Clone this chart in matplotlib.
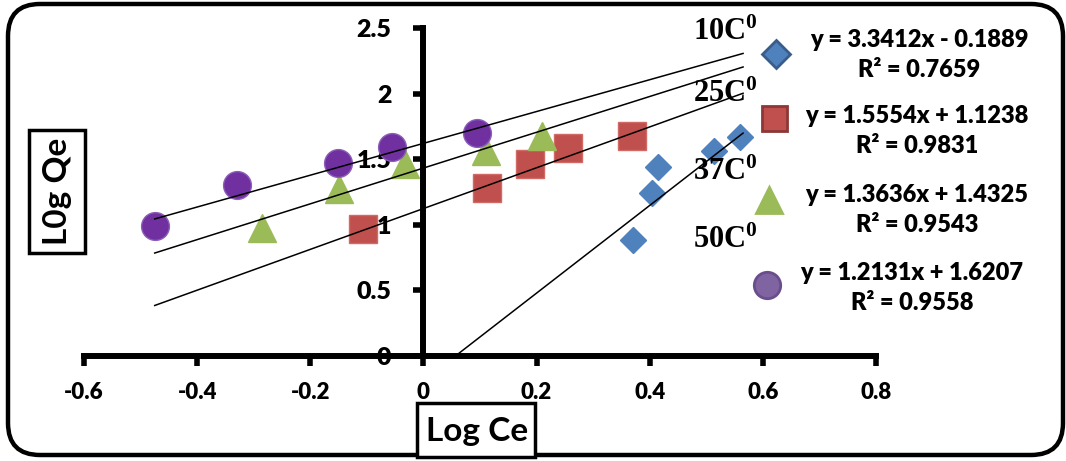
import numpy as np
import matplotlib
matplotlib.use("Agg")
import matplotlib.pyplot as plt
from matplotlib.patches import FancyBboxPatch, Rectangle
from matplotlib.ticker import FuncFormatter

plt.rcParams["font.family"] = ["Lato", "DejaVu Sans"]
plt.rcParams["font.weight"] = "heavy"
plt.rcParams["mathtext.fontset"] = "custom"
plt.rcParams["mathtext.rm"] = "Liberation Serif:bold"
plt.rcParams["mathtext.it"] = "Liberation Serif:bold"
plt.rcParams["mathtext.bf"] = "Liberation Serif:bold"

# data
diamond_x = [0.371, 0.404, 0.415, 0.514, 0.560]
diamond_y = [0.884, 1.24, 1.44, 1.56, 1.67]
square_x = [-0.107, 0.112, 0.189, 0.256, 0.369]
square_y = [0.97, 1.28, 1.46, 1.585, 1.677]
triangle_x = [-0.285, -0.15, -0.032, 0.110, 0.21]
triangle_y = [0.975, 1.27, 1.46, 1.56, 1.68]
circle_x = [-0.475, -0.33, -0.151, -0.056, 0.095]
circle_y = [0.99, 1.30, 1.47, 1.59, 1.70]

slopes = [3.3412, 1.5554, 1.3636, 1.2131]
intercepts = [-0.1889, 1.1238, 1.4325, 1.6207]
r2 = [0.7659, 0.9831, 0.9543, 0.9558]
trend_range = [-0.475, 0.565]

temp_labels = ["10C", "25C", "37C", "50C"]
x_ticks = [-0.6, -0.4, -0.2, 0, 0.2, 0.4, 0.6, 0.8]
y_ticks = [0, 0.5, 1, 1.5, 2, 2.5]

blue, red, green, purple = "#4F81BD", "#C0504D", "#9BBB59", "#7030A0"

W, H = 1066, 461
fig = plt.figure(figsize=(W / 100, H / 100), dpi=100)
ax = fig.add_axes([84 / W, 1 - 356 / H, 792 / W, 328 / H])
ax.set_facecolor("none")

ax.plot(diamond_x, diamond_y, "D", ms=13.5, color=blue, mec=blue, zorder=2, clip_on=False)
ax.plot(square_x, square_y, "s", ms=19.5, color=red, mec="#D06A66", mew=1, zorder=2, clip_on=False)
ax.plot(triangle_x, triangle_y, "^", ms=20, color=green, mec=green, zorder=2, clip_on=False)
ax.plot(circle_x, circle_y, "o", ms=20, color=purple, mec="#8B5CB8", mew=1, zorder=2, clip_on=False)

xs = np.array(trend_range)
for m, b in zip(slopes, intercepts):
    ax.plot(xs, m * xs + b, color="black", lw=1.1, zorder=3)

ax.set_xlim(-0.6, 0.8)
ax.set_ylim(0, 2.5)
ax.spines["left"].set_position(("data", 0))
ax.spines["bottom"].set_position(("data", 0))
ax.spines["top"].set_visible(False)
ax.spines["right"].set_visible(False)
for s in ["left", "bottom"]:
    ax.spines[s].set_linewidth(4.3)
ax.set_xticks(x_ticks)
ax.set_yticks(y_ticks)
fmt = FuncFormatter(lambda v, p: "%g" % v)
ax.xaxis.set_major_formatter(fmt)
ax.yaxis.set_major_formatter(fmt)
ax.tick_params(axis="x", direction="out", length=7, width=4, pad=12, labelsize=16)
ax.tick_params(axis="y", direction="out", length=7, width=4, pad=16, labelsize=18)

# overlay in pixel coordinates for frame, labels and legend
ov = fig.add_axes([0, 0, 1, 1])
ov.set_xlim(0, W)
ov.set_ylim(H, 0)
ov.axis("off")
ov.set_facecolor("none")

ov.add_patch(FancyBboxPatch((8, 4), 1055, 451, boxstyle="round,pad=0,rounding_size=32",
                            lw=3.2, ec="black", fc="none"))

ov.add_patch(Rectangle((29, 130), 56, 123, lw=2.5, ec="black", fc="white"))
ov.text(58, 191, "L0g Qe", rotation=90, ha="center", va="center", fontsize=24, fontweight="bold")
ov.add_patch(Rectangle((417, 403), 118, 54, lw=2.5, ec="black", fc="white"))
ov.text(477, 431, "Log Ce", ha="center", va="center", fontsize=24, fontweight="bold")

label_y = [40, 102, 180, 248]
for t, yb in zip(temp_labels, label_y):
    ov.text(693, yb, t + "$^{0}$", ha="left", va="baseline", fontsize=22,
            family="Liberation Serif", fontweight="bold")

# legend
leg_y = [55, 131, 210, 288]
leg_mk = [("D", 14, blue, "#385D8A"), ("s", 18, red, "#8C3836"),
          ("^", 19, green, green), ("o", 19, "#8064A2", "#6A4E8C")]
leg_mx = [776, 774, 769, 767]
leg_tx = [919, 917, 917, 912]
for i in range(4):
    mk, ms, fc, ec = leg_mk[i]
    my = [54, 118, 200, 285][i]
    ov.plot([leg_mx[i]], [my], mk, ms=ms, color=fc, mec=ec, mew=2, clip_on=False)
    sign = "-" if intercepts[i] < 0 else "+"
    ov.text(leg_tx[i], leg_y[i] - 15, "y = %.4fx %s %.4f" % (slopes[i], sign, abs(intercepts[i])),
            ha="center", va="center", fontsize=17)
    ov.text(leg_tx[i], leg_y[i] + 15, "R\u00b2 = %.4f" % r2[i],
            ha="center", va="center", fontsize=17)

fig.savefig("out.png", dpi=100)
